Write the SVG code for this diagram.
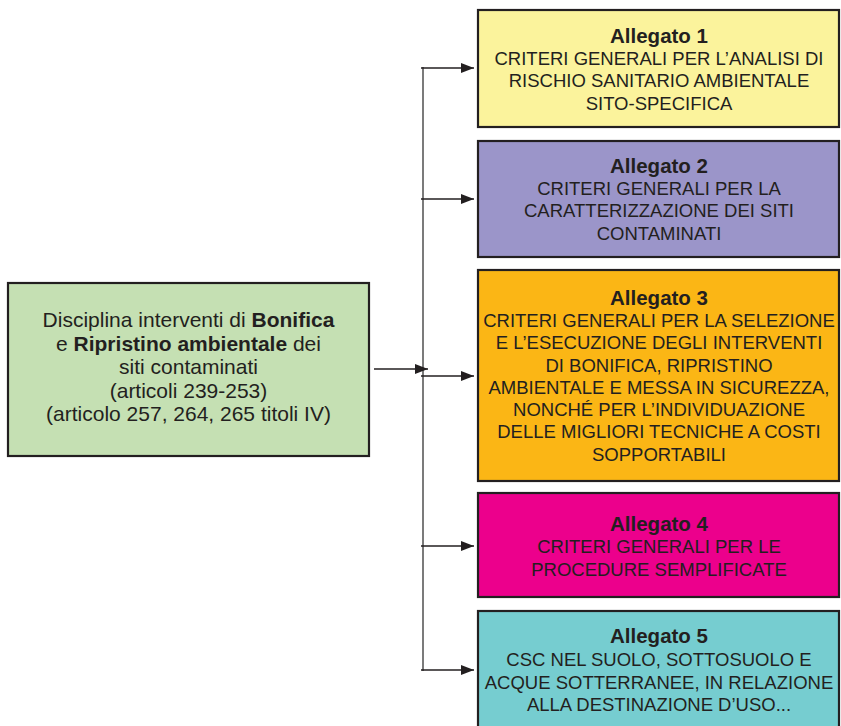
<svg xmlns="http://www.w3.org/2000/svg" width="841" height="726" viewBox="0 0 841 726">
<style>
.box{stroke:#231F20;stroke-width:2.2}
.t{font-family:"Liberation Sans",Arial,sans-serif;fill:#231F20;text-anchor:middle}
.r{font-size:18.5px}
.h{font-size:20.5px;font-weight:bold}
.l{font-size:21px}
.b{font-weight:bold}
.c{stroke:#231F20;stroke-width:1.4;fill:none}
.v{stroke:#5a5a5a;stroke-width:1.6;fill:none}
</style>
<defs>
<marker id="ah" markerUnits="userSpaceOnUse" markerWidth="14" markerHeight="11" refX="13" refY="5" orient="auto">
<path d="M0,0 L13,5 L0,10 z" fill="#231F20"/>
</marker>
</defs>
<rect width="841" height="726" fill="#ffffff"/>
<g id="connectors">
<line class="v" x1="423" y1="67" x2="423" y2="671"/>
<line class="c" x1="374" y1="369" x2="428" y2="369" marker-end="url(#ah)"/>
<line class="c" x1="421" y1="68" x2="474" y2="68" marker-end="url(#ah)"/>
<line class="c" x1="421" y1="199" x2="474" y2="199" marker-end="url(#ah)"/>
<line class="c" x1="421" y1="376" x2="474" y2="376" marker-end="url(#ah)"/>
<line class="c" x1="421" y1="546" x2="474" y2="546" marker-end="url(#ah)"/>
<line class="c" x1="421" y1="670" x2="474" y2="670" marker-end="url(#ah)"/>
</g>
<g id="main">
<rect class="box" x="8" y="283" width="361" height="173" fill="#C5E0B3"/>
<text class="t l" x="188.5" y="327">Disciplina interventi di <tspan class="b">Bonifica</tspan></text>
<text class="t l" x="188.5" y="350.5">e <tspan class="b">Ripristino ambientale</tspan> dei</text>
<text class="t l" x="188.5" y="374">siti contaminati</text>
<text class="t l" x="188.5" y="397.5">(articoli 239-253)</text>
<text class="t l" x="188.5" y="421">(articolo 257, 264, 265 titoli IV)</text>
</g>
<g id="allegato1">
<rect class="box" x="478" y="10" width="361" height="117" fill="#FBF39C"/>
<text class="t h" x="659" y="42.6">Allegato 1</text>
<text class="t r" x="659" y="65">CRITERI GENERALI PER L’ANALISI DI</text>
<text class="t r" x="659" y="87.3">RISCHIO SANITARIO AMBIENTALE</text>
<text class="t r" x="659" y="109.6">SITO-SPECIFICA</text>
</g>
<g id="allegato2">
<rect class="box" x="478" y="141" width="361" height="116" fill="#9B95C9"/>
<text class="t h" x="659" y="172.6">Allegato 2</text>
<text class="t r" x="659" y="195">CRITERI GENERALI PER LA</text>
<text class="t r" x="659" y="217.3">CARATTERIZZAZIONE DEI SITI</text>
<text class="t r" x="659" y="239.6">CONTAMINATI</text>
</g>
<g id="allegato3">
<rect class="box" x="478" y="270" width="361" height="211" fill="#FBB615"/>
<text class="t h" x="659" y="304.6">Allegato 3</text>
<text class="t r" x="659" y="326.9">CRITERI GENERALI PER LA SELEZIONE</text>
<text class="t r" x="659" y="349.2">E L’ESECUZIONE DEGLI INTERVENTI</text>
<text class="t r" x="659" y="371.5">DI BONIFICA, RIPRISTINO</text>
<text class="t r" x="659" y="393.8">AMBIENTALE E MESSA IN SICUREZZA,</text>
<text class="t r" x="659" y="416.1">NONCHÉ PER L’INDIVIDUAZIONE</text>
<text class="t r" x="659" y="438.4">DELLE MIGLIORI TECNICHE A COSTI</text>
<text class="t r" x="659" y="460.7">SOPPORTABILI</text>
</g>
<g id="allegato4">
<rect class="box" x="478" y="493" width="361" height="104" fill="#EC008C"/>
<text class="t h" x="659" y="531">Allegato 4</text>
<text class="t r" x="659" y="553.3">CRITERI GENERALI PER LE</text>
<text class="t r" x="659" y="575.6">PROCEDURE SEMPLIFICATE</text>
</g>
<g id="allegato5">
<rect class="box" x="478" y="611" width="361" height="130" fill="#76CDD0"/>
<text class="t h" x="659" y="643">Allegato 5</text>
<text class="t r" x="659" y="666">CSC NEL SUOLO, SOTTOSUOLO E</text>
<text class="t r" x="659" y="688.5">ACQUE SOTTERRANEE, IN RELAZIONE</text>
<text class="t r" x="659" y="711">ALLA DESTINAZIONE D’USO...</text>
</g>
</svg>
